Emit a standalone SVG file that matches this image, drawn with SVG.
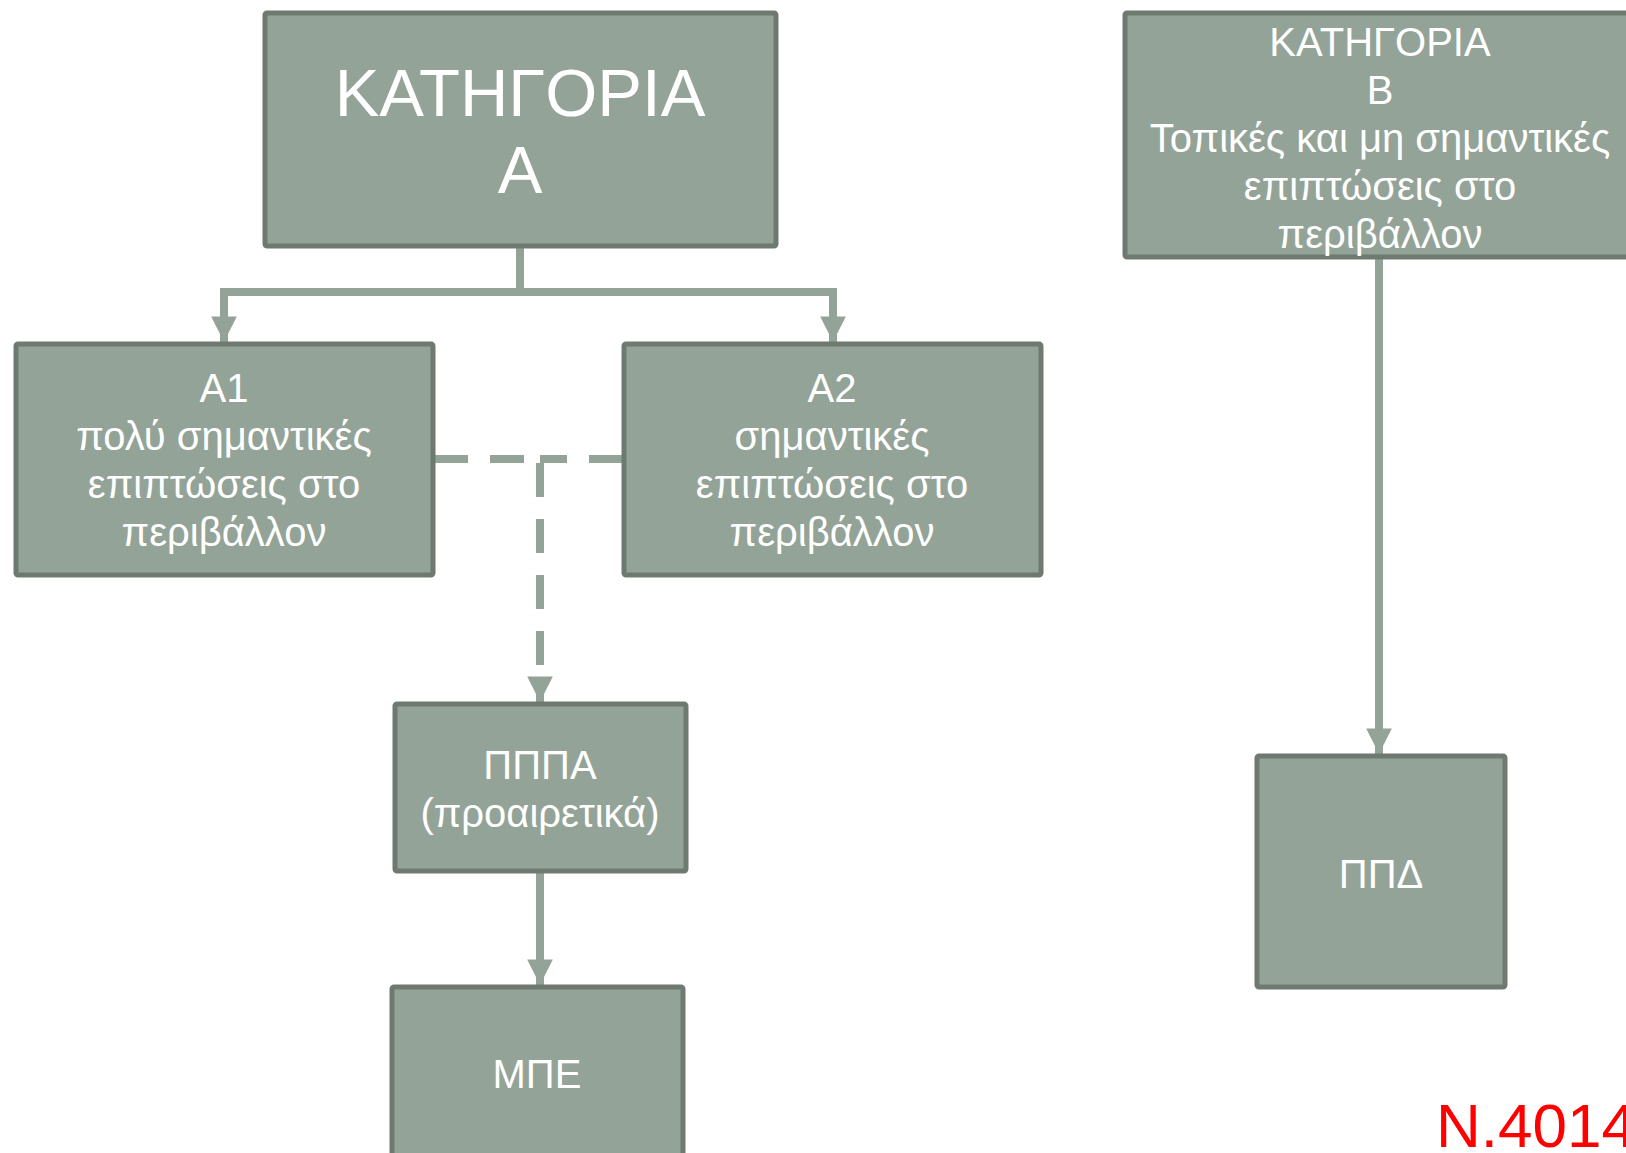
<svg xmlns="http://www.w3.org/2000/svg" width="1626" height="1153" viewBox="0 0 1626 1153">
<style>
.box{fill:#93a398;stroke:#6e7a70;stroke-width:5}
.t{font-family:"Liberation Sans",Arial,sans-serif;fill:#ffffff;text-anchor:middle;font-size:40px}
.big{font-size:67px}
.con{fill:none;stroke:#93a398;stroke-width:8}
.dash{stroke-dasharray:34 22}
.red{font-family:"Liberation Sans",Arial,sans-serif;fill:#ff0000;font-size:62px}
</style>
<defs>
<marker id="arr" viewBox="0 0 10 10" refX="10" refY="5" markerWidth="3.2" markerHeight="3.3" markerUnits="strokeWidth" orient="auto">
<path d="M0,0 L10,5 L0,10 Z" fill="#93a398"/>
</marker>
</defs>
<g id="connectors">
<path class="con" d="M520,246 V292"/>
<path class="con" d="M520,292 H224 V342" marker-end="url(#arr)"/>
<path class="con" d="M520,292 H833 V342" marker-end="url(#arr)"/>
<path class="con dash" d="M434,459 H540"/>
<path class="con dash" d="M623,459 H540"/>
<path class="con dash" d="M540,463 V702" marker-end="url(#arr)"/>
<path class="con" d="M540,872 V985" marker-end="url(#arr)"/>
<path class="con" d="M1379,259 V754" marker-end="url(#arr)"/>
</g>
<g id="catA">
<rect class="box" x="265" y="13" width="511" height="233" rx="2"/>
<text class="t big" x="520" y="116">ΚΑΤΗΓΟΡΙΑ</text>
<text class="t big" x="520" y="193">Α</text>
</g>
<g id="catB">
<rect class="box" x="1125" y="13" width="510" height="244" rx="2"/>
<text class="t" x="1380" y="56">ΚΑΤΗΓΟΡΙΑ</text>
<text class="t" x="1380" y="104">Β</text>
<text class="t" x="1380" y="152">Τοπικές και μη σημαντικές</text>
<text class="t" x="1380" y="200">επιπτώσεις στο</text>
<text class="t" x="1380" y="248">περιβάλλον</text>
</g>
<g id="A1">
<rect class="box" x="16" y="344" width="417" height="231" rx="2"/>
<text class="t" x="224" y="402">Α1</text>
<text class="t" x="224" y="450">πολύ σημαντικές</text>
<text class="t" x="224" y="498">επιπτώσεις στο</text>
<text class="t" x="224" y="546">περιβάλλον</text>
</g>
<g id="A2">
<rect class="box" x="624" y="344" width="417" height="231" rx="2"/>
<text class="t" x="832" y="402">Α2</text>
<text class="t" x="832" y="450">σημαντικές</text>
<text class="t" x="832" y="498">επιπτώσεις στο</text>
<text class="t" x="832" y="546">περιβάλλον</text>
</g>
<g id="PPPA">
<rect class="box" x="395" y="704" width="291" height="167" rx="2"/>
<text class="t" x="540" y="779">ΠΠΠΑ</text>
<text class="t" x="540" y="827">(προαιρετικά)</text>
</g>
<g id="MPE">
<rect class="box" x="392" y="987" width="291" height="180" rx="2"/>
<text class="t" x="537" y="1088">ΜΠΕ</text>
</g>
<g id="PPD">
<rect class="box" x="1257" y="756" width="248" height="231" rx="2"/>
<text class="t" x="1381" y="888">ΠΠΔ</text>
</g>
<text class="red" x="1436" y="1147">N.4014</text>
</svg>
